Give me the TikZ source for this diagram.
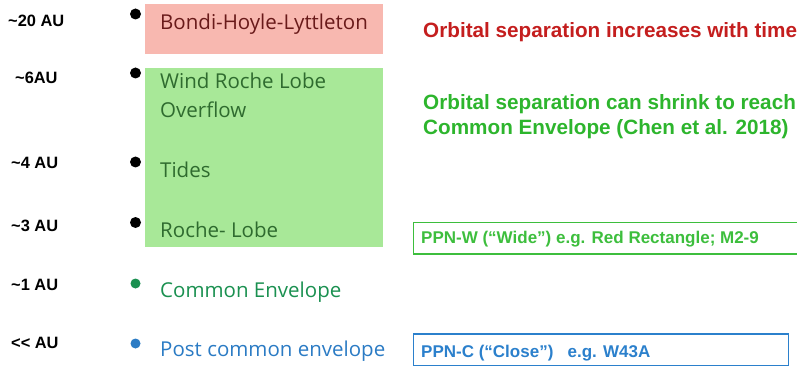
\documentclass[tikz,border=0pt]{standalone}
\usepackage{fontspec}
\setmainfont{Liberation Sans}
\newfontfamily\gillfont{Open Sans}
\usetikzlibrary{positioning}

\definecolor{bhlfill}{RGB}{248,184,176}
\definecolor{bhltext}{RGB}{105,26,26}
\definecolor{rlofill}{RGB}{168,232,152}
\definecolor{rlotext}{RGB}{47,107,47}
\definecolor{cetext}{RGB}{26,144,80}
\definecolor{pcetext}{RGB}{43,123,196}
\definecolor{notered}{RGB}{196,30,30}
\definecolor{notegreen}{RGB}{45,181,45}
\definecolor{ppngreen}{RGB}{61,190,61}
\definecolor{ppnblue}{RGB}{43,128,204}

\begin{document}
\begin{tikzpicture}[x=1pt, y=-1pt, inner sep=0pt,
	dist/.style={anchor=base west, font=\fontsize{16.4}{19}\selectfont\bfseries},
	bul/.style={shape=circle, fill, minimum width=#1, minimum height=#1},
	bul/.default=11pt,
	mech/.style={anchor=base west, font=\fontsize{20.5}{24}\selectfont\gillfont},
	note/.style={anchor=base west, font=\fontsize{20.7}{24}\selectfont\bfseries},
	ppn/.style={anchor=base west, font=\fontsize{17}{20}\selectfont\bfseries},
	ppnbox/.style={draw, line width=1.5pt, anchor=north west}]
\useasboundingbox (0,0) rectangle (797,366);

% coloured regions
\path (145,4) node[fill=bhlfill, anchor=north west, minimum width=238pt, minimum height=50pt] (bhlbox) {}
	  (145,68.3) node[fill=rlofill, anchor=north west, minimum width=238pt, minimum height=178.4pt] (rlobox) {};

% separations
\path (8,26.7) node[dist] (a20) {\char`~20 AU}
	  (15,83.3) node[dist] (a6) {\char`~6AU}
	  (11,168.3) node[dist] (a4) {\char`~4 AU}
	  (11,231.7) node[dist] (a3) {\char`~3 AU}
	  (11,290) node[dist] (a1) {\char`~1 AU}
	  (11,348.3) node[dist] (a0) {{<}{<} AU};

% bullets
\path (135.5,14) node[bul] (d20) {}
	  (135.5,73) node[bul] (d6) {}
	  (135.5,162) node[bul] (d4) {}
	  (135.5,222.5) node[bul] (d3) {}
	  (135.5,283.5) node[bul=10pt, cetext] (d1) {}
	  (135.5,343.5) node[bul=10pt, pcetext] (d0) {};

% mechanisms
\path (160,29.3) node[mech, bhltext] (bhl) {Bondi-Hoyle-Lyttleton}
	  (160,88.3) node[mech, rlotext] (wrlof) {Wind Roche Lobe}
	  (160,117.3) node[mech, rlotext] (ovf) {Overflow}
	  (160,177.5) node[mech, rlotext] (tides) {Tides}
	  (160,237.3) node[mech, rlotext] (rl) {Roche- Lobe}
	  (160,297.3) node[mech, cetext] (ce) {Common Envelope}
	  (160,356.7) node[mech, pcetext] (pce) {Post common envelope};

% notes
\path (423,37.7) node[note, notered] (grow) {Orbital separation increases with time}
	  (423,110) node[note, notegreen] (shrink) {Orbital separation can shrink to reach}
	  (423,135) node[note, notegreen] (chen) {Common Envelope (Chen et al. 2018)};

% PPN classes
\path (412.7,221.7) node[ppnbox, ppngreen, minimum width=400pt, minimum height=31.6pt] (wbox) {}
	  (412.7,333) node[ppnbox, ppnblue, minimum width=375pt, minimum height=32pt] (cbox) {};
\path (421,243.3) node[ppn, ppngreen] (ppnw) {PPN-W (“Wide”) e.g. Red Rectangle; M2-9}
	  (421,357.3) node[ppn, ppnblue] (ppnc) {PPN-C (“Close”)\ \ \ e.g. W43A};

\end{tikzpicture}
\end{document}
